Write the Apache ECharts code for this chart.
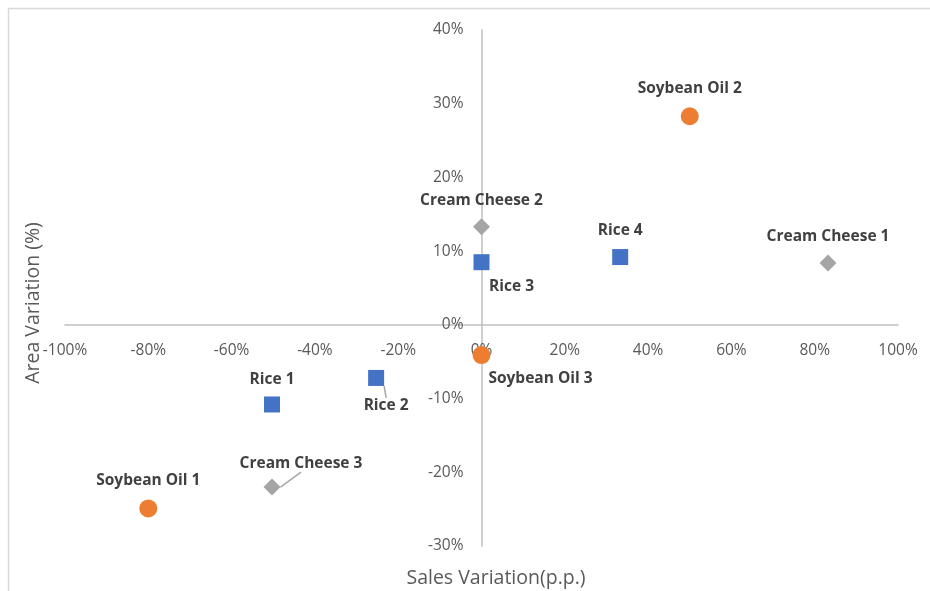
<!DOCTYPE html>
<html>
<head>
<meta charset="utf-8">
<script src="https://cdn.jsdelivr.net/npm/echarts@6/dist/echarts.min.js"></script>
<style>html,body{margin:0;padding:0;background:#fff}#c{width:930px;height:591px}</style>
</head>
<body>
<div id="c"></div>
<script>
// Data (fractions)
var soybeanNames = ['Soybean Oil 1', 'Soybean Oil 2', 'Soybean Oil 3'];
var soybeanX = [-0.80, 0.50, 0.00];
var soybeanY = [-0.249, 0.283, -0.041];

var creamNames = ['Cream Cheese 1', 'Cream Cheese 2', 'Cream Cheese 3'];
var creamX = [0.832, 0.00, -0.503];
var creamY = [0.084, 0.133, -0.220];

var riceNames = ['Rice 1', 'Rice 2', 'Rice 3', 'Rice 4'];
var riceX = [-0.503, -0.253, 0.00, 0.333];
var riceY = [-0.108, -0.072, 0.085, 0.092];

var xMin = -1, xMax = 1, xStep = 0.2;
var yMin = -0.3, yMax = 0.4, yStep = 0.1;

// label offsets (style) and leader lines
var labelOffsets = [
  [[0, -28], [0, -28], [59, 23]],
  [[0, -26], [0, -26], [29, -23]],
  [[0, -25], [10, 28], [30, 24], [0, -26]]
];
var leaderLines = [[false, false, false], [false, false, true], [false, true, false, false]];

function pts(idx, xs, ys, names) {
  return xs.map(function (x, i) {
    return { value: [x, ys[i]], name: names[i], labelLine: { show: leaderLines[idx][i] } };
  });
}

var FONT = 'Open Sans';
var chart = echarts.init(document.getElementById('c'), null, { renderer: 'canvas' });

function mkSeries(idx, name, data, symbol, size, color) {
  return {
    name: name,
    type: 'scatter',
    symbol: symbol,
    symbolSize: size,
    itemStyle: { color: color, opacity: 1 },
    data: data,
    label: {
      show: true,
      position: 'inside',
      formatter: function (p) { return p.name; },
      fontFamily: FONT,
      fontWeight: 'bold',
      fontSize: 15.5,
      color: '#404040'
    },
    labelLine: {
      show: false,
      lineStyle: { color: '#a6a6a6', width: 1.5 }
    },
    labelLayout: function (p) {
      var o = labelOffsets[idx][p.dataIndex];
      return { dx: o[0], dy: o[1] };
    },
    emphasis: { disabled: true }
  };
}

var axisLabelStyle = { color: '#595959', fontFamily: FONT, fontSize: 15.5 };
function pct(v) { return Math.round(v * 100) + '%'; }

var option = {
  animation: false,
  backgroundColor: '#fff',
  grid: { left: 65, right: 32, top: 30, bottom: 45, containLabel: false },
  xAxis: {
    type: 'value', min: xMin, max: xMax, interval: xStep, position: 'bottom', offset: 0,
    axisLine: { show: true, onZero: false, lineStyle: { color: '#bfbfbf', width: 1.5 } },
    axisTick: { show: false },
    splitLine: { show: false },
    axisLabel: Object.assign({ margin: 18, formatter: pct }, axisLabelStyle)
  },
  yAxis: {
    type: 'value', min: yMin, max: yMax, interval: yStep, position: 'left', offset: 0,
    axisLine: { show: true, onZero: false, lineStyle: { color: '#bfbfbf', width: 1.5 } },
    axisTick: { show: false },
    splitLine: { show: false },
    axisLabel: Object.assign({ margin: 18, formatter: pct }, axisLabelStyle)
  },
  graphic: [
    { type: 'rect', shape: { x: 8.5, y: 8.5, width: 1000, height: 1000 }, style: { fill: 'none', stroke: '#d9d9d9', lineWidth: 1.5 }, z: -1 },
    { type: 'text', x: 33, y: 303, rotation: Math.PI / 2, style: { text: 'Area Variation (%)', fill: '#595959', font: '19.5px "Open Sans"', align: 'center', verticalAlign: 'middle' } },
    { type: 'text', x: 496, y: 578, style: { text: 'Sales Variation(p.p.)', fill: '#595959', font: '19.5px "Open Sans"', align: 'center', verticalAlign: 'middle' } }
  ],
  series: [
    mkSeries(0, 'Soybean Oil', pts(0, soybeanX, soybeanY, soybeanNames), 'circle', 18, '#ED7D31'),
    mkSeries(1, 'Cream Cheese', pts(1, creamX, creamY, creamNames), 'diamond', 17, '#A5A5A5'),
    mkSeries(2, 'Rice', pts(2, riceX, riceY, riceNames), 'rect', 16, '#4472C4')
  ]
};
chart.setOption(option);

// Move the axes so they cross at zero (Excel-style)
var origin = chart.convertToPixel({ gridIndex: 0 }, [0, 0]);
var corner = chart.convertToPixel({ gridIndex: 0 }, [xMin, yMin]);
chart.setOption({
  xAxis: { offset: -(corner[1] - origin[1]) },
  yAxis: { offset: -(origin[0] - corner[0]) }
});
</script>
</body>
</html>
